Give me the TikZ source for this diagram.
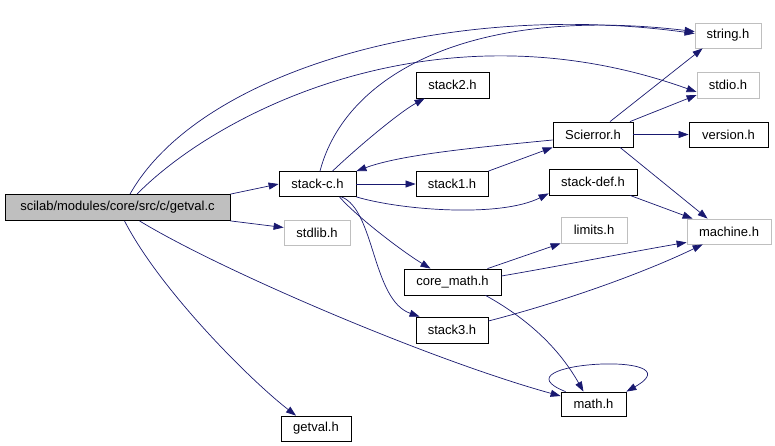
\documentclass[tikz,border=0pt]{standalone}
\usepackage{fontspec}
\setmainfont{Liberation Sans}
\usetikzlibrary{arrows.meta}

\definecolor{midnight}{RGB}{25,25,112}
\definecolor{syscol}{RGB}{191,191,191}

\begin{document}
\begin{tikzpicture}[x=1pt,y=-1pt,
	hdr/.style={draw=black,line width=0.8pt,minimum height=25pt,inner sep=0pt,font=\fontsize{13}{15}\selectfont},
	sys/.style={hdr,draw=syscol},
	dep/.style={midnight,line width=0.7pt,-{Triangle[length=10pt,width=7pt]}}]
	\useasboundingbox (0,0) rectangle (775,445);

	\node [hdr,fill=syscol,minimum width=225pt,minimum height=26pt](C) at (117.5,207.5) {scilab/modules/core/src/c/getval.c};
	\node [hdr,minimum width=77pt](Stc) at (317.5,184) {stack-c.h};
	\node [sys,minimum width=66pt](Lib) at (317,232.5) {stdlib.h};
	\node [hdr,minimum width=70pt](Gv) at (316,428.5) {getval.h};
	\node [hdr,minimum width=73pt,minimum height=26pt](St2) at (452.5,85) {stack2.h};
	\node [hdr,minimum width=72pt](St1) at (452,184) {stack1.h};
	\node [hdr,minimum width=97pt,minimum height=26pt](Cm) at (452.5,282) {core\_math.h};
	\node [hdr,minimum width=72pt,minimum height=26pt](St3) at (452,330) {stack3.h};
	\node [hdr,minimum width=80pt](Err) at (593,134.5) {Scierror.h};
	\node [hdr,minimum width=88pt,minimum height=26pt](Def) at (593,182) {stack-def.h};
	\node [sys,minimum width=66pt,minimum height=26pt](Lim) at (594,230) {limits.h};
	\node [hdr,minimum width=65pt,minimum height=24pt](M) at (593.5,404) {math.h};
	\node [sys,minimum width=66pt](Str) at (728,35.5) {string.h};
	\node [sys,minimum width=62pt,minimum height=26pt](Io) at (728,85) {stdio.h};
	\node [hdr,minimum width=79pt](Ver) at (728.5,134.5) {version.h};
	\node [sys,minimum width=84pt](Mach) at (729,231.5) {machine.h};

	% getval.c
	\draw [dep] ([xshift=12.5pt]C.north) .. controls (200,70) and (450,0) .. ([yshift=2pt]Str.west);
	\draw [dep] ([xshift=19.5pt]C.north) .. controls (220,110) and (440,0) .. ([yshift=-7pt]Io.west);
	\draw [dep] (C.north east) -- (Stc.west);
	\draw [dep] (C.south east) -- ([yshift=5pt]Lib.west);
	\draw [dep] ([xshift=22pt]C.south) .. controls (220,270) and (430,360) .. ([yshift=8pt]M.west);
	\draw [dep] ([xshift=7pt]C.south) .. controls (160,290) and (250,380) .. ([xshift=-20pt]Gv.north);

	% stack-c.h
	\draw [dep] ([xshift=15pt]Stc.north) .. controls (360,145) and (400,112) .. ([xshift=9pt]St2.south west);
	\draw [dep] ([xshift=2.5pt]Stc.north) .. controls (345,75) and (470,5) .. ([yshift=4pt]Str.west);
	\draw [dep] (Stc.east) -- (St1.west);
	\draw [dep] (Stc.south east) .. controls (400,210) and (500,218) .. ([yshift=2pt]Def.south west);
	\draw [dep] ([xshift=22pt]Stc.south) .. controls (355,215) and (400,250) .. ([xshift=-22pt]Cm.north);
	\draw [dep] ([xshift=24pt]Stc.south) .. controls (375,210) and (372,300) .. ([xshift=4pt]St3.north west);

	% Scierror.h
	\draw [dep] ([yshift=-5.5pt]Err.west) .. controls (470,148) and (400,155) .. (Stc.north east);
	\draw [dep] (St1.north east) -- (Err.south west);
	\draw [dep] ([xshift=17pt]Err.north) -- ([xshift=8pt]Str.south west);
	\draw [dep] ([xshift=37pt]Err.north) -- ([yshift=-10pt]Io.west);
	\draw [dep] (Err.east) -- (Ver.west);
	\draw [dep] ([xshift=27pt]Err.south) -- ([xshift=21pt]Mach.north west);

	% to machine.h
	\draw [dep] ([xshift=37pt]Def.south) -- ([xshift=6pt]Mach.north west);
	\draw [dep] ([xshift=35pt]Cm.north) -- (Lim.south west);
	\draw [dep] ([yshift=6pt]Cm.east) .. controls (560,266) and (630,252) .. ([yshift=2pt]Mach.south west);
	\draw [dep] ([yshift=9pt]St3.east) .. controls (570,300) and (650,270) .. ([xshift=16pt]Mach.south west);

	% math.h
	\draw [dep] ([xshift=33pt]Cm.south) .. controls (530,320) and (560,350) .. ([xshift=-10pt]M.north);
	\draw [dep] ([xshift=5pt]M.north west) .. controls (490,362) and (700,350) .. (M.north east);
\end{tikzpicture}
\end{document}
